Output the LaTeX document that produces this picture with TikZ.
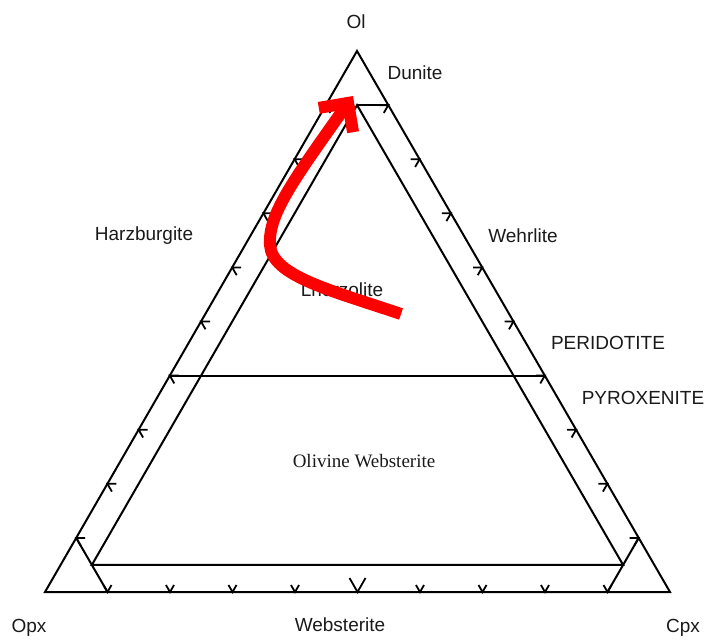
\documentclass[tikz,border=0pt]{standalone}
\usepackage{fontspec}
\setmainfont{Liberation Serif}
\setsansfont{Liberation Sans}
\usetikzlibrary{arrows.meta,calc}
\definecolor{markred}{HTML}{FF0000}
\definecolor{inktext}{HTML}{1A1A1A}
\tikzset{
  sideline/.style={line width=2pt,black},
  tickmark/.style={line width=1.8pt,black},
  fieldlabel/.style={font=\sffamily\fontsize{19}{19}\selectfont,text=inktext,inner sep=0pt},
  serlabel/.style={font=\rmfamily\fontsize{19}{19}\selectfont,text=inktext,inner sep=0pt},
  redarrow/.style={markred,line width=12pt,-{Straight Barb[length=21pt,width=42pt]}}
}
\begin{document}
\begin{tikzpicture}[x=1pt,y=-1pt]
\useasboundingbox (0,0) rectangle (708,639);
\coordinate (ol) at (357,51);
\coordinate (opx) at (45,592);
\coordinate (cpx) at (670,592);
% outer triangle
\draw[sideline] (ol) -- (opx) -- (cpx) -- cycle;
% field boundaries
\coordinate (dn) at (barycentric cs:ol=0.9,opx=0.05,cpx=0.05);
\coordinate (wl) at (barycentric cs:ol=0.05,opx=0.9,cpx=0.05);
\coordinate (wr) at (barycentric cs:ol=0.05,opx=0.05,cpx=0.9);
\draw[sideline] (dn) -- (barycentric cs:ol=0.9,cpx=0.1);
\draw[sideline] (barycentric cs:ol=0.4,opx=0.6) -- (barycentric cs:ol=0.4,cpx=0.6);
\draw[sideline] (dn) -- (wl) -- (wr) -- cycle;
\draw[sideline] (barycentric cs:ol=0.1,opx=0.9) -- (barycentric cs:opx=0.9,cpx=0.1);
\draw[sideline] (barycentric cs:ol=0.1,cpx=0.9) -- (barycentric cs:opx=0.1,cpx=0.9);
% ticks
\foreach \t [evaluate=\t as \a using \t/10, evaluate=\t as \u using 1-\t/10] in {1,2,3,4,6,7,8,9}
  \draw[tickmark] (barycentric cs:opx=\u,cpx=\a) ++(-4,-7) -- ++(4,7) -- ++(4,-7);
\draw[tickmark] (barycentric cs:opx=0.5,cpx=0.5) ++(-8,-14) -- ++(8,14) -- ++(8,-14);
\foreach \t [evaluate=\t as \a using \t/10, evaluate=\t as \u using 1-\t/10] in {1,...,9}{
  \draw[tickmark] (barycentric cs:ol=\a,opx=\u) ++(9,0) -- ++(-9,0) -- ++(4.5,7.8);
  \draw[tickmark] (barycentric cs:ol=\a,cpx=\u) ++(-9,0) -- ++(9,0) -- ++(-4.5,7.8);
}
% labels
\node[fieldlabel] (olname) at (356,22) {Ol};
\node[fieldlabel] (opxname) at (29,628) {Opx};
\node[fieldlabel] (cpxname) at (683,628) {Cpx};
\node[fieldlabel] (dunite) at (415,73) {Dunite};
\node[fieldlabel] (harz) at (144,236) {Harzburgite};
\node[fieldlabel] (wehr) at (523,236) {Wehrlite};
\node[fieldlabel] (lherz) at (342,290) {Lherzolite};
\node[fieldlabel] (perid) at (608,343) {PERIDOTITE};
\node[fieldlabel] (pyrox) at (643,398) {PYROXENITE};
\node[serlabel] (olweb) at (364,461) {Olivine Websterite};
\node[fieldlabel] (webst) at (340,625) {Websterite};
% red mark
\draw[redarrow] (401,314) .. controls (330,290) and (272,276) .. (270,245)
  .. controls (268,215) and (292,182) .. (353,96);
\end{tikzpicture}
\end{document}
